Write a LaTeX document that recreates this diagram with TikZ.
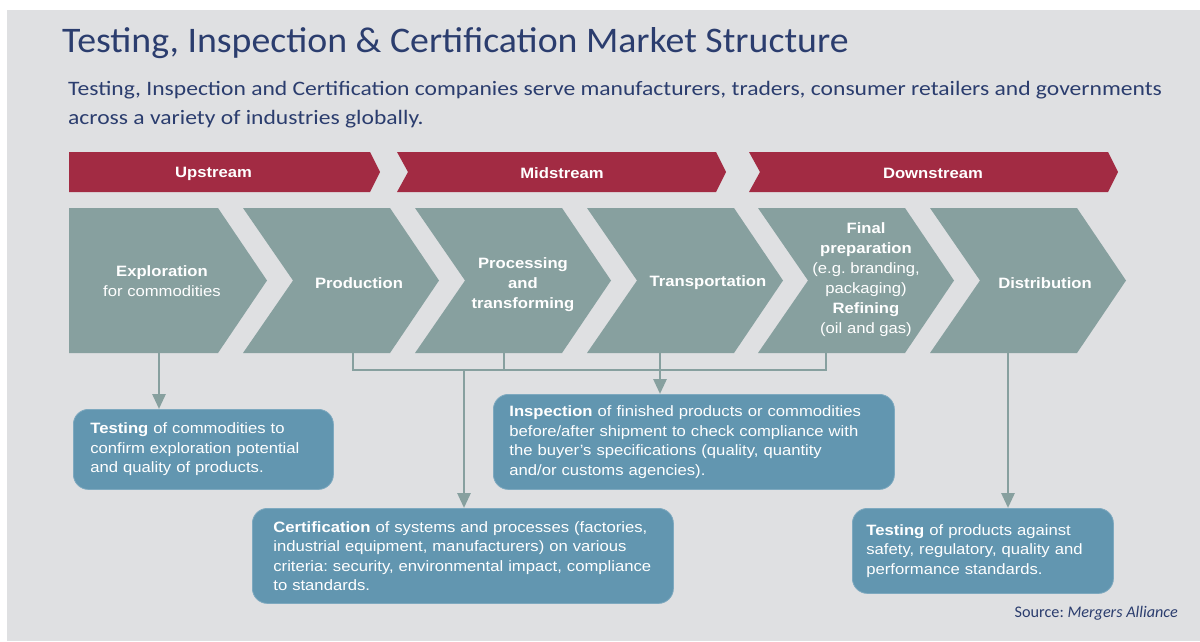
\documentclass[tikz,border=0pt]{standalone}
\usepackage{fontspec}
\setmainfont{Liberation Sans}[FakeStretch=1.11]
\newfontfamily\calfont{Carlito}
\newfontfamily\titlefont{Carlito}[FakeStretch=1.05]
\newfontfamily\subfont{Carlito}[FakeStretch=1.15]
\usetikzlibrary{arrows.meta}
\definecolor{bgc}{HTML}{DFE0E2}
\definecolor{bandc}{HTML}{A22B43}
\definecolor{chevc}{HTML}{87A09F}
\definecolor{boxc}{HTML}{6296B0}
\definecolor{boxl}{HTML}{7EA9BF}
\definecolor{navy}{HTML}{2B3D6E}
\frenchspacing
\begin{document}
\begin{tikzpicture}[x=1pt,y=-1pt,
  band/.style={fill=bandc},
  chev/.style={fill=chevc},
  blab/.style={text=white,font=\bfseries\fontsize{15}{18}\selectfont,inner sep=0},
  clab/.style={text=white,align=center,font=\fontsize{15}{20}\selectfont,inner sep=0},
  tbox/.style={fill=boxc,draw=boxl,line width=0.8pt,rounded corners=15pt,anchor=north west,
    text=white,align=left,font=\fontsize{15}{19.5}\selectfont,inner ysep=0pt},
  conn/.style={draw=chevc,line width=2.8pt},
  arr/.style={conn,-{Triangle[width=13pt,length=15pt]}}
]
\useasboundingbox (0,0) rectangle (1200,641);
\fill[white] (0,0) rectangle (1200,641);
\fill[bgc] (7,10) rectangle (1200,641);

% title
\node[anchor=base west,inner sep=0,text=navy,font=\titlefont\fontsize{36}{36}\selectfont] (title) at (62,52) {Testing, Inspection \& Certification Market Structure};
\node[anchor=base west,inner sep=0,text=navy,font=\subfont\fontsize{20.5}{24}\selectfont] (sub1) at (68,95) {Testing, Inspection and Certification companies serve manufacturers, traders, consumer retailers and governments};
\node[anchor=base west,inner sep=0,text=navy,font=\subfont\fontsize{20.5}{24}\selectfont] (sub2) at (68,124) {across a variety of industries globally.};

% bands
\fill[band] (69,152) -- (370,152) -- (380,172) -- (370,192) -- (69,192) -- cycle;
\fill[band] (397,152) -- (716,152) -- (726,172) -- (716,192) -- (397,192) -- (408,172) -- cycle;
\fill[band] (749,152) -- (1108,152) -- (1118,172) -- (1108,192) -- (749,192) -- (760,172) -- cycle;
\node[blab] (up) at (213.5,173.5) {Upstream};
\node[blab] (mid) at (562,173.5) {Midstream};
\node[blab] (down) at (933,173.5) {Downstream};

% chevrons
\fill[chev] (69,208) -- (218,208) -- (267,280.5) -- (218,353) -- (69,353) -- cycle;
\foreach \x in {243,415,587,758,930}{
  \fill[chev] (\x,208) -- (\x+147,208) -- (\x+196,280.5) -- (\x+147,353) -- (\x,353) -- (\x+50,280.5) -- cycle;
}
\node[clab] (exp) at (162,281) {\textbf{Exploration}\\for commodities};
\node[clab] (prod) at (359,283) {\textbf{Production}};
\node[clab] (proc) at (523,285) {\textbf{Processing}\\\textbf{and}\\\textbf{transforming}};
\node[clab] (trans) at (708,283) {\textbf{Transportation}};
\node[clab] (fin) at (866,280) {\textbf{Final}\\\textbf{preparation}\\(e.g. branding,\\packaging)\\\textbf{Refining}\\(oil and gas)};
\node[clab] (dist) at (1045,283) {\textbf{Distribution}};

\coordinate (expB) at (159,353);
\coordinate (prodB) at (353,353);
\coordinate (procB) at (504,353);
\coordinate (transB) at (660,353);
\coordinate (finB) at (826,353);
\coordinate (distB) at (1008,353);
\coordinate (bus) at (0,370);
\coordinate (certX) at (464,370);

% boxes
\node[tbox,inner xsep=17pt,text width=226pt,minimum height=80pt] (t1) at (73,409)
 {\mbox{\textbf{Testing} of commodities to}\\\mbox{confirm exploration potential}\\\mbox{and quality of products.}};
\node[tbox,inner xsep=16pt,text width=369pt,minimum height=95pt] (insp) at (493,394)
 {\mbox{\textbf{Inspection} of finished products or commodities}\\\mbox{before/after shipment to check compliance with}\\\mbox{the buyer’s specifications (quality, quantity}\\\mbox{and/or customs agencies).}};
\node[tbox,inner xsep=21pt,text width=379pt,minimum height=95pt] (cert) at (252,508)
 {\mbox{\textbf{Certification} of systems and processes (factories,}\\\mbox{industrial equipment, manufacturers) on various}\\\mbox{criteria: security, environmental impact, compliance}\\\mbox{to standards.}};
\node[tbox,inner xsep=14pt,text width=233pt,minimum height=85pt] (t2) at (852,508)
 {\mbox{\textbf{Testing} of products against}\\\mbox{safety, regulatory, quality and}\\\mbox{performance standards.}};

% connectors
\draw[arr] (expB) -- (t1.north -| expB);
\draw[conn] (prodB) -- (prodB |- bus) -- (finB |- bus) -- (finB);
\draw[conn] (procB) -- (procB |- bus);
\draw[arr] (certX) -- (cert.north -| certX);
\draw[arr] (transB) -- (insp.north -| transB);
\draw[arr] (distB) -- (t2.north -| distB);

% source
\node[anchor=base east,inner sep=0,text=navy,font=\calfont\fontsize{16.2}{20}\selectfont] (src) at (1178,617) {Source: \textit{Mergers Alliance}};
\end{tikzpicture}
\end{document}
